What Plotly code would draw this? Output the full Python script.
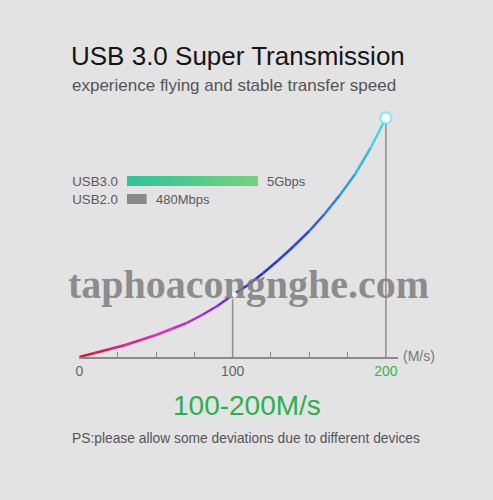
import plotly.graph_objects as go
from plotly.colors import sample_colorscale

# ---------------- data ----------------
speed_x = [0, 10, 20, 30, 40, 50, 60, 70, 80, 90, 100, 110, 120, 130, 140, 150, 160, 170, 180, 190, 200]
curve_y = [0, 4, 8, 12, 17, 22, 28, 34, 42, 51, 62, 72, 84, 97, 111, 126, 143, 162, 183, 209, 239]
tick_vals = [0, 100, 200]
tick_labels = ["0", "100", "200"]
marked_x = [100, 200]
marked_y = [62, 239]

usb_labels = ["USB2.0", "USB3.0"]
usb_rank = [0, 1]
usb_bar_len = [15, 100]
usb_speed_text = ["480Mbps", "5Gbps"]

W, H = 493, 500
BG = "#e3e3e3"

def px(xp):
    return xp / W

def py(yp):
    return 1 - yp / H

fig = go.Figure()

curve_scale = [
    [0.0, "#d2143a"],
    [0.28, "#e22cc4"],
    [0.45, "#8a2ae0"],
    [0.55, "#2a2ad0"],
    [0.75, "#2a52d8"],
    [0.88, "#30a0e4"],
    [1.0, "#44e4ec"],
]

# vertical guide lines
for xv, yv in zip(marked_x, marked_y):
    fig.add_trace(go.Scatter(x=[xv, xv], y=[0, yv], mode="lines",
                             line=dict(color="#8e8e8e", width=1.5),
                             hoverinfo="skip", showlegend=False))

# gradient curve as segments
xmax = max(speed_x)
for i in range(len(speed_x) - 1):
    mid = (speed_x[i] + speed_x[i + 1]) / 2 / xmax
    col = sample_colorscale(curve_scale, [mid])[0]
    fig.add_trace(go.Scatter(x=speed_x[i:i + 2], y=curve_y[i:i + 2], mode="lines",
                             line=dict(color=col, width=2.5),
                             hoverinfo="skip", showlegend=False))

# marked points
fig.add_trace(go.Scatter(x=[marked_x[0]], y=[marked_y[0]], mode="markers",
                         marker=dict(size=8, color="white", line=dict(color="#cfcfcf", width=1)),
                         showlegend=False))
fig.add_trace(go.Scatter(x=[marked_x[1]], y=[marked_y[1]], mode="markers",
                         marker=dict(size=11, color="white", line=dict(color="rgba(70,225,236,0.55)", width=2.5)),
                         showlegend=False))

# USB bars (second axes)
bar_half = 0.28
bar_fills = [None, [[0, "#2ec49c"], [1, "#74d37a"]]]
bar_colors = ["#8a8a8a", "#4cc98c"]
for r, v, fg, c in zip(usb_rank, usb_bar_len, bar_fills, bar_colors):
    kw = dict(fillgradient=dict(type="horizontal", colorscale=fg)) if fg else dict(fillcolor=c)
    fig.add_trace(go.Scatter(x=[0, v, v, 0, 0],
                             y=[r - bar_half, r - bar_half, r + bar_half, r + bar_half, r - bar_half],
                             mode="lines", fill="toself", line=dict(width=0, color=c),
                             xaxis="x2", yaxis="y2", hoverinfo="skip", showlegend=False, **kw))

annotations = []
for r, v, t in zip(usb_rank, usb_bar_len, usb_speed_text):
    annotations.append(dict(x=v, y=r, xref="x2", yref="y2", text=t, showarrow=False,
                            xanchor="left", yanchor="middle", xshift=7,
                            font=dict(size=13, color="#5a5a5a", family="Liberation Sans")))

ticktext = [f"<span style='color:#3ab54a'>{t}</span>" if t == "200" else t for t in tick_labels]

text_font = "Liberation Sans"
annotations += [
    dict(x=px(66), y=py(56), xref="paper", yref="paper", text="USB 3.0 Super Transmission",
         showarrow=False, xanchor="left", yanchor="middle",
         font=dict(size=26, color="#151515", family=text_font)),
    dict(x=px(67), y=py(85), xref="paper", yref="paper", text="experience flying and stable transfer speed",
         showarrow=False, xanchor="left", yanchor="middle",
         font=dict(size=17, color="#555555", family=text_font)),
    dict(x=px(400), y=py(356), xref="paper", yref="paper", text="(M/s)",
         showarrow=False, xanchor="left", yanchor="middle",
         font=dict(size=14, color="#777777", family=text_font)),
    dict(x=px(245), y=py(405), xref="paper", yref="paper", text="100-200M/s",
         showarrow=False, xanchor="center", yanchor="middle",
         font=dict(size=28, color="#2cb04a", family=text_font)),
    dict(x=px(67), y=py(438), xref="paper", yref="paper",
         text="PS:please allow some deviations due to different devices",
         showarrow=False, xanchor="left", yanchor="middle",
         font=dict(size=13.8, color="#555555", family=text_font)),
    dict(x=px(246), y=py(284), xref="paper", yref="paper", text="<b>taphoacongnghe.com</b>",
         showarrow=False, xanchor="center", yanchor="middle",
         font=dict(size=40, color="rgba(125,125,125,0.85)", family="Liberation Serif")),
]

fig.update_layout(
    width=W, height=H,
    margin=dict(l=0, r=0, t=0, b=0),
    paper_bgcolor=BG, plot_bgcolor=BG,
    showlegend=False,
    xaxis=dict(domain=[px(76), px(397)], range=[0, 200 * 321 / 309],
               showgrid=False, zeroline=False, showline=True, linecolor="#8a8a8a", linewidth=1.5,
               tickmode="array", tickvals=tick_vals, ticktext=ticktext, ticks="",
               tickfont=dict(size=14, color="#666666", family=text_font),
               minor=dict(tickmode="array", tickvals=[25, 50, 75, 125, 150, 175],
                          ticks="inside", ticklen=5, tickwidth=1.2, tickcolor="#8a8a8a"),
               fixedrange=True),
    yaxis=dict(domain=[py(357), py(100)], range=[0, 257], visible=False, fixedrange=True),
    xaxis2=dict(domain=[px(124), px(324)], range=[0, 200 / 1.32], visible=False,
                anchor="y2", fixedrange=True),
    yaxis2=dict(domain=[py(208), py(172)], range=[-0.5, 1.5], anchor="free", position=px(124),
                tickmode="array", tickvals=usb_rank, ticktext=usb_labels, ticks="",
                ticklabelstandoff=9,
                showgrid=False, zeroline=False, showline=False,
                tickfont=dict(size=13.3, color="#5a5a5a", family=text_font), fixedrange=True),
    annotations=annotations,
)

fig.write_html("out.html", config={"displayModeBar": False},
               post_script="document.body.style.margin='0';document.body.style.overflow='hidden';")
